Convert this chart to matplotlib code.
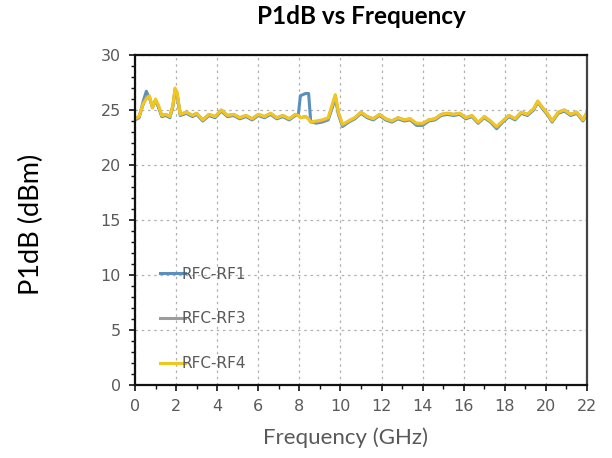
import matplotlib
matplotlib.use("Agg")
import matplotlib.pyplot as plt
from matplotlib.ticker import MultipleLocator

# ===== Data =====
freq_ghz = [0.0, 0.2, 0.4, 0.55, 0.7, 0.85, 1.0, 1.15, 1.3, 1.5, 1.7, 1.85, 1.95, 2.05,
            2.2, 2.5, 2.8, 3.0, 3.3, 3.6, 3.9, 4.2, 4.5, 4.8, 5.1, 5.4, 5.7, 6.0, 6.3,
            6.6, 6.9, 7.2, 7.5, 7.8, 7.95, 8.05, 8.3, 8.45, 8.55, 8.8, 9.1, 9.4, 9.6,
            9.75, 9.9, 10.1, 10.4, 10.7, 11.0, 11.3, 11.6, 11.9, 12.2, 12.5, 12.8, 13.1,
            13.4, 13.7, 14.0, 14.3, 14.6, 14.9, 15.2, 15.5, 15.8, 16.1, 16.4, 16.7, 17.0,
            17.3, 17.6, 17.9, 18.2, 18.5, 18.8, 19.1, 19.4, 19.6, 19.8, 20.1, 20.3, 20.6,
            20.9, 21.2, 21.5, 21.8, 22.0]

rfc_rf1 = [24.1, 24.3, 25.8, 26.7, 26.1, 25.3, 25.9, 25.2, 24.4, 24.5, 24.3, 25.4, 26.8, 26.4,
           24.5, 24.7, 24.4, 24.6, 24.0, 24.5, 24.3, 24.9, 24.4, 24.5, 24.2, 24.4, 24.1, 24.5, 24.3,
           24.6, 24.2, 24.4, 24.1, 24.5, 24.6, 26.3, 26.5, 26.5, 24.0, 23.8, 23.9, 24.1, 25.2,
           26.1, 24.6, 23.5, 23.9, 24.2, 24.7, 24.3, 24.1, 24.5, 24.1, 23.9, 24.2, 24.0,
           24.1, 23.6, 23.6, 24.0, 24.1, 24.5, 24.6, 24.5, 24.6, 24.2, 24.4, 23.8, 24.3,
           23.9, 23.3, 23.9, 24.4, 24.1, 24.7, 24.5, 25.0, 25.7, 25.2, 24.5, 23.9, 24.7,
           24.9, 24.5, 24.7, 24.0, 24.7]

rfc_rf3 = [24.2, 24.4, 25.5, 26.2, 26.2, 25.2, 25.9, 25.3, 24.5, 24.6, 24.4, 25.4, 26.9, 26.5,
           24.6, 24.8, 24.5, 24.7, 24.1, 24.6, 24.4, 25.0, 24.5, 24.6, 24.3, 24.5, 24.2, 24.6, 24.4,
           24.7, 24.3, 24.5, 24.2, 24.6, 24.5, 24.3, 24.4, 24.2, 23.9, 23.9, 24.0, 24.2, 25.4,
           26.3, 24.7, 23.6, 24.0, 24.3, 24.8, 24.4, 24.2, 24.6, 24.2, 24.0, 24.3, 24.1,
           24.2, 23.7, 23.7, 24.1, 24.2, 24.6, 24.7, 24.6, 24.7, 24.3, 24.5, 23.8, 24.4,
           24.0, 23.4, 24.0, 24.5, 24.2, 24.8, 24.6, 25.1, 25.8, 25.3, 24.6, 24.0, 24.8,
           25.0, 24.6, 24.8, 24.1, 24.8]

rfc_rf4 = [24.2, 24.4, 25.6, 26.0, 26.3, 25.2, 26.0, 25.4, 24.5, 24.6, 24.4, 25.5, 27.0, 26.6,
           24.6, 24.8, 24.5, 24.7, 24.1, 24.6, 24.4, 25.0, 24.5, 24.6, 24.3, 24.5, 24.2, 24.6, 24.4,
           24.7, 24.3, 24.5, 24.2, 24.6, 24.5, 24.3, 24.4, 24.2, 23.9, 24.0, 24.1, 24.3, 25.5,
           26.4, 24.8, 23.7, 24.0, 24.3, 24.8, 24.4, 24.2, 24.6, 24.2, 24.0, 24.3, 24.1,
           24.2, 23.8, 23.8, 24.1, 24.2, 24.6, 24.7, 24.6, 24.7, 24.3, 24.5, 23.9, 24.4,
           24.0, 23.5, 24.0, 24.5, 24.2, 24.8, 24.6, 25.1, 25.8, 25.3, 24.6, 24.0, 24.8,
           25.0, 24.6, 24.8, 24.1, 24.8]

SERIES = [
    ("RFC-RF1", rfc_rf1, "#5b8fbd"),
    ("RFC-RF3", rfc_rf3, "#9c9c9c"),
    ("RFC-RF4", rfc_rf4, "#f2c61f"),
]

TICK_GRAY = "#5a5a5a"
NARROW = ["Liberation Sans Narrow", "DejaVu Sans"]

fig = plt.figure(figsize=(6.12, 4.58), dpi=100)
ax = fig.add_axes([0.2206, 0.1594, 0.7386, 0.7205])

for name, vals, color in SERIES:
    ax.plot(freq_ghz, vals, color=color, linewidth=2.2, label=name, solid_joinstyle="round")

ax.set_xlim(0, 22)
ax.set_ylim(0, 30)
ax.xaxis.set_major_locator(MultipleLocator(2))
ax.xaxis.set_minor_locator(MultipleLocator(1))
ax.yaxis.set_major_locator(MultipleLocator(5))
ax.yaxis.set_minor_locator(MultipleLocator(1))

ax.grid(True, which="major", color="#b0b0b0", linestyle=(0, (2, 3)), linewidth=0.9)
for side in ["left", "bottom", "top"]:
    ax.spines[side].set_color("#111111")
    ax.spines[side].set_linewidth(1.6)
ax.spines["right"].set_color("#444444")
ax.spines["right"].set_linewidth(1.6)

ax.tick_params(which="major", direction="out", length=4, width=1.2, color="#111111",
               labelsize=11.5, labelcolor=TICK_GRAY, pad=6)
ax.tick_params(which="minor", direction="out", length=3, width=1.0, color="#111111")
for lbl in ax.get_xticklabels() + ax.get_yticklabels():
    lbl.set_family(NARROW)

leg = ax.legend(loc="lower left", bbox_to_anchor=(0.025, 0.0), frameon=False,
                handlelength=1.6, handletextpad=-0.2, labelspacing=1.95,
                prop={"size": 11, "family": NARROW})
for txt in leg.get_texts():
    txt.set_color(TICK_GRAY)

fig.suptitle("P1dB vs Frequency", x=0.59, y=0.99, fontsize=17.5, fontweight="bold",
             family="Lato")
fig.text(0.565, 0.044, "Frequency (GHz)", fontsize=16, color="#595959", family="Lato",
         ha="center", va="center")
fig.text(0.052, 0.51, "P1dB (dBm)", rotation=90, fontsize=19.5, family="Lato",
         ha="center", va="center")

fig.savefig("out.png", dpi=100)
